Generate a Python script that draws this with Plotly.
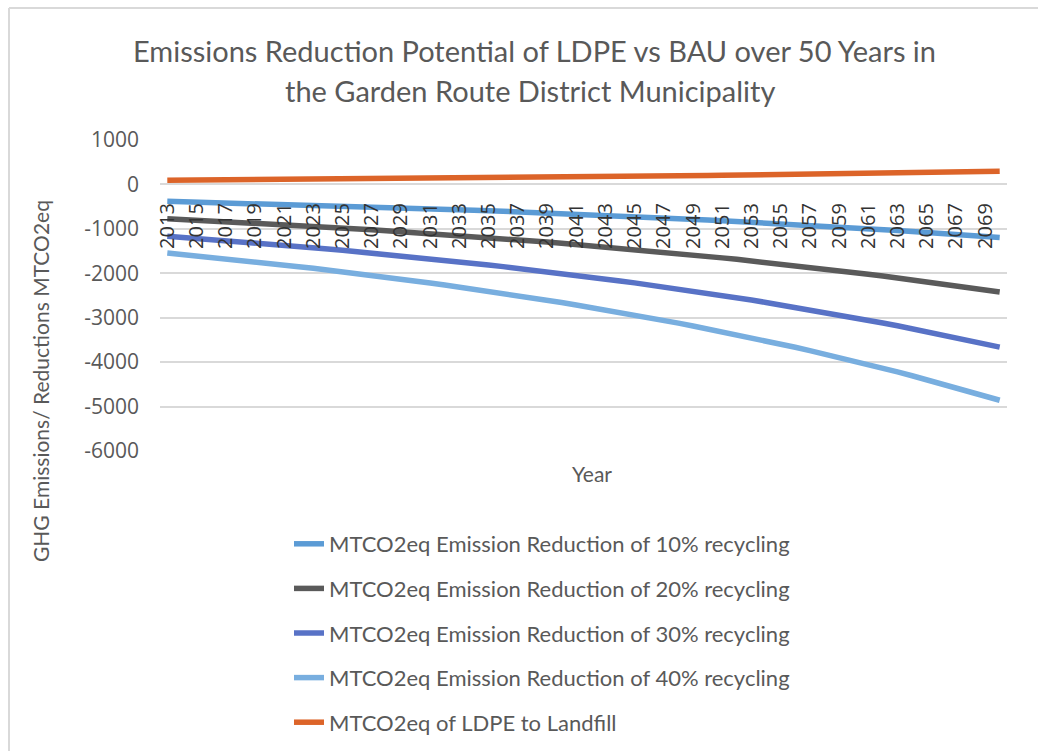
import plotly.graph_objects as go

years = [str(y) for y in range(2013, 2071)]

red_10 = [-380, -388, -396, -404, -412, -420, -429, -437, -446, -455, -465, -474, -484, -493, -504,
          -514, -524, -535, -546, -557, -568, -580, -591, -603, -616, -628, -641, -654, -667, -681,
          -694, -709, -723, -738, -753, -768, -783, -799, -816, -832, -849, -866, -884, -902, -920,
          -939, -958, -977, -997, -1017, -1038, -1059, -1081, -1102, -1125, -1148, -1171, -1195]
red_20 = [-770, -786, -802, -818, -834, -851, -869, -886, -904, -923, -941, -960, -980, -1000, -1020,
          -1041, -1062, -1084, -1106, -1128, -1151, -1174, -1198, -1223, -1247, -1273, -1298, -1325,
          -1352, -1379, -1407, -1436, -1465, -1495, -1525, -1556, -1588, -1620, -1653, -1686, -1720,
          -1755, -1791, -1827, -1864, -1902, -1941, -1980, -2020, -2061, -2103, -2146, -2190, -2234,
          -2279, -2326, -2373, -2421]
red_30 = [-1165, -1189, -1213, -1237, -1263, -1288, -1314, -1341, -1368, -1396, -1424, -1453, -1483,
          -1513, -1544, -1575, -1607, -1639, -1673, -1707, -1741, -1777, -1813, -1850, -1887, -1926,
          -1965, -2004, -2045, -2087, -2129, -2172, -2216, -2261, -2307, -2354, -2402, -2451, -2500,
          -2551, -2603, -2656, -2710, -2765, -2821, -2878, -2936, -2996, -3057, -3119, -3182, -3247,
          -3313, -3380, -3449, -3519, -3590, -3663]
red_40 = [-1545, -1576, -1608, -1641, -1674, -1708, -1743, -1778, -1815, -1851, -1889, -1927, -1966,
          -2006, -2047, -2089, -2131, -2174, -2218, -2263, -2309, -2356, -2404, -2453, -2503, -2554,
          -2605, -2658, -2712, -2767, -2823, -2881, -2939, -2999, -3060, -3122, -3185, -3250, -3316,
          -3383, -3452, -3522, -3594, -3666, -3741, -3817, -3894, -3973, -4054, -4136, -4220, -4306,
          -4393, -4483, -4574, -4666, -4761, -4858]
landfill = [95, 97, 99, 101, 103, 105, 107, 109, 112, 114, 116, 119, 121, 123, 126, 128, 131, 134,
            136, 139, 142, 145, 148, 151, 154, 157, 160, 163, 167, 170, 174, 177, 181, 184, 188, 192,
            196, 200, 204, 208, 212, 217, 221, 225, 230, 235, 239, 244, 249, 254, 260, 265, 270, 276,
            281, 287, 293, 299]

series_names = [
    "MTCO2eq Emission Reduction of 10% recycling",
    "MTCO2eq Emission Reduction of 20% recycling",
    "MTCO2eq Emission Reduction of 30% recycling",
    "MTCO2eq Emission Reduction of 40% recycling",
    "MTCO2eq of LDPE to Landfill",
]
series_values = [red_10, red_20, red_30, red_40, landfill]
series_colors = ["#5B9BD5", "#5A5A5A", "#5872C6", "#78AEDF", "#DC6429"]

tick_years = years[::2]
y_ticks = [1000, 0, -1000, -2000, -3000, -4000, -5000, -6000]
y_tick_text = [str(v) for v in y_ticks]

FONT = "Lato"
W, H = 1038, 751
L, R, T, B = 160, 31, 140, 300
PW, PH = W - L - R, H - T - B


def px_x(px):
    return (px - L) / PW


def px_y(py):
    return (H - B - py) / PH


fig = go.Figure()
for i, (name, vals, col) in enumerate(zip(series_names, series_values, series_colors)):
    fig.add_trace(go.Scatter(
        x=years, y=vals, mode="lines", name=name,
        line=dict(color=col, width=5.5), legendgroup=f"g{i}",
    ))

fig.update_layout(
    width=W, height=H,
    margin=dict(l=L, r=R, t=T, b=B, autoexpand=False),
    paper_bgcolor="white", plot_bgcolor="white",
    font=dict(family=FONT, color="#595959"),
    showlegend=True,
    legend=dict(
        x=px_x(289), y=px_y(523), xanchor="left", yanchor="top",
        font=dict(family=FONT, size=22, color="#595959"),
        tracegroupgap=13, bgcolor="rgba(0,0,0,0)",
    ),
    xaxis=dict(
        type="category", range=[-0.5, len(years) - 0.5],
        anchor="free", position=6 / 7, side="bottom",
        tickmode="array", tickvals=tick_years, ticktext=tick_years,
        tickangle=-90, ticks="", ticklabelstandoff=10,
        tickfont=dict(family="Open Sans", size=20, color="#333333"),
        showgrid=False, zeroline=False, showline=True,
        linecolor="#D9D9D9", linewidth=1.5, automargin=False,
    ),
    yaxis=dict(
        range=[-6000, 1000], tickmode="array", tickvals=y_ticks, ticktext=y_tick_text,
        ticks="", ticklabelstandoff=20,
        tickfont=dict(family="Open Sans", size=21, color="#595959"),
        showgrid=True, gridcolor="#D9D9D9", gridwidth=1.5,
        zeroline=False, showline=False, automargin=False,
    ),
    annotations=[
        dict(text="Emissions Reduction Potential of LDPE vs BAU over 50 Years in",
             xref="paper", yref="paper", x=px_x(534), y=px_y(50),
             xanchor="center", yanchor="middle", showarrow=False,
             font=dict(family=FONT, size=29, color="#595959")),
        dict(text="the Garden Route District Municipality",
             xref="paper", yref="paper", x=px_x(530), y=px_y(90),
             xanchor="center", yanchor="middle", showarrow=False,
             font=dict(family=FONT, size=29, color="#595959")),
        dict(text="GHG Emissions/ Reductions MTCO2eq",
             xref="paper", yref="paper", x=px_x(40), y=px_y(381),
             xanchor="center", yanchor="middle", showarrow=False, textangle=-90,
             font=dict(family=FONT, size=21, color="#595959")),
        dict(text="Year",
             xref="paper", yref="paper", x=px_x(592), y=px_y(473),
             xanchor="center", yanchor="middle", showarrow=False,
             font=dict(family=FONT, size=21, color="#595959")),
    ],
    shapes=[
        dict(type="line", xref="paper", yref="paper",
             x0=px_x(9), x1=px_x(9), y0=px_y(H + 5), y1=px_y(8),
             line=dict(color="#D9D9D9", width=2)),
        dict(type="line", xref="paper", yref="paper",
             x0=px_x(9), x1=px_x(W + 5), y0=px_y(8), y1=px_y(8),
             line=dict(color="#D9D9D9", width=2)),
    ],
)

fig.write_html(
    "out.html",
    config={"displayModeBar": False},
    post_script="document.body.style.margin='0';document.body.style.overflow='hidden';",
)
